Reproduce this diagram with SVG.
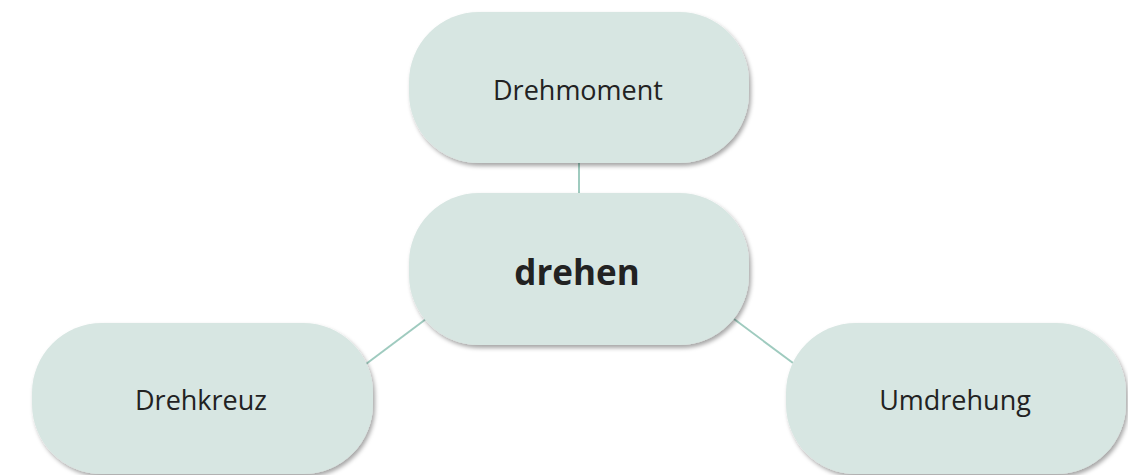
<svg xmlns="http://www.w3.org/2000/svg" width="1128" height="475" viewBox="0 0 1128 475">
<defs>
<style>
.node{fill:#d7e6e2;filter:url(#sh)}
.lbl{font-family:"Open Sans","Noto Sans",sans-serif;font-size:27px;fill:#222;text-anchor:middle}
.main{font-weight:bold;font-size:35px}
.edge{stroke:#9fcbbf;stroke-width:2;fill:none}
</style>
<filter id="sh" x="-10%" y="-10%" width="125%" height="130%">
<feDropShadow dx="2" dy="3" stdDeviation="2" flood-color="#000" flood-opacity="0.35"/>
</filter>
</defs>
<rect width="1128" height="475" fill="#fff"/>
<g id="connectors">
<line class="edge" x1="579" y1="162" x2="579" y2="194"/>
<line class="edge" x1="366" y1="364" x2="426" y2="319"/>
<line class="edge" x1="734" y1="319" x2="793" y2="363"/>
</g>
<g id="node-drehmoment">
<rect class="node" x="409" y="12" width="340" height="151" rx="70" ry="70"/>
<text class="lbl" x="578" y="100">Drehmoment</text>
</g>
<g id="node-drehen">
<rect class="node" x="409" y="193" width="340" height="152" rx="70" ry="70"/>
<text class="lbl main" x="577" y="285">drehen</text>
</g>
<g id="node-drehkreuz">
<rect class="node" x="32" y="323" width="341" height="151" rx="70" ry="70"/>
<text class="lbl" x="201" y="410">Drehkreuz</text>
</g>
<g id="node-umdrehung">
<rect class="node" x="786" y="323" width="340" height="151" rx="70" ry="70"/>
<text class="lbl" x="955" y="410">Umdrehung</text>
</g>
</svg>
